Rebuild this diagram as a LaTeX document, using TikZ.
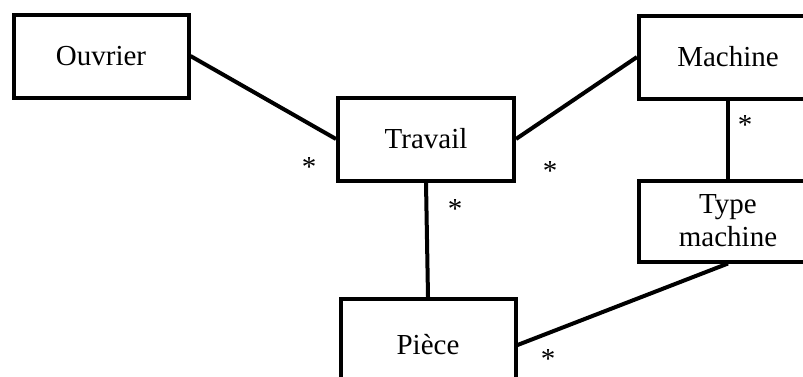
\documentclass[tikz,border=0pt]{standalone}
\usepackage{fontspec}
\setmainfont{Liberation Serif}
\begin{document}
\begin{tikzpicture}[x=1pt,y=-1pt,
  cls/.style={draw,line width=4pt,rectangle,inner sep=0pt,font=\fontsize{29}{33}\selectfont,align=center},
  mult/.style={inner sep=0pt,font=\fontsize{29}{33}\selectfont},
  conn/.style={line width=4pt}]
\useasboundingbox (0,0) rectangle (803,376);
\clip (0,0) rectangle (803,376);
\node[cls,minimum width=175pt,minimum height=83pt] (ouvrier) at (101,56) {Ouvrier};
\node[cls,minimum width=176pt,minimum height=83pt] (travail) at (426,139) {Travail};
\node[cls,minimum width=178pt,minimum height=83pt] (machine) at (728,57) {Machine};
\node[cls,minimum width=178pt,minimum height=81pt] (type) at (728,221) {Type\\machine};
\node[cls,minimum width=175pt,minimum height=92pt] (piece) at (428,345) {Pièce};
\draw[conn] (ouvrier.east) -- (travail.west);
\draw[conn] (travail.east) -- (machine.west);
\draw[conn] (machine.south) -- (type.north);
\draw[conn] (travail.south) -- (piece.north);
\draw[conn] (type.south) -- (piece.east);
\node[mult] (m1) at (309,167) {*};
\node[mult] (m2) at (550,171) {*};
\node[mult] (m3) at (745,125) {*};
\node[mult] (m4) at (455,209) {*};
\node[mult] (m5) at (548,359) {*};
\end{tikzpicture}
\end{document}
